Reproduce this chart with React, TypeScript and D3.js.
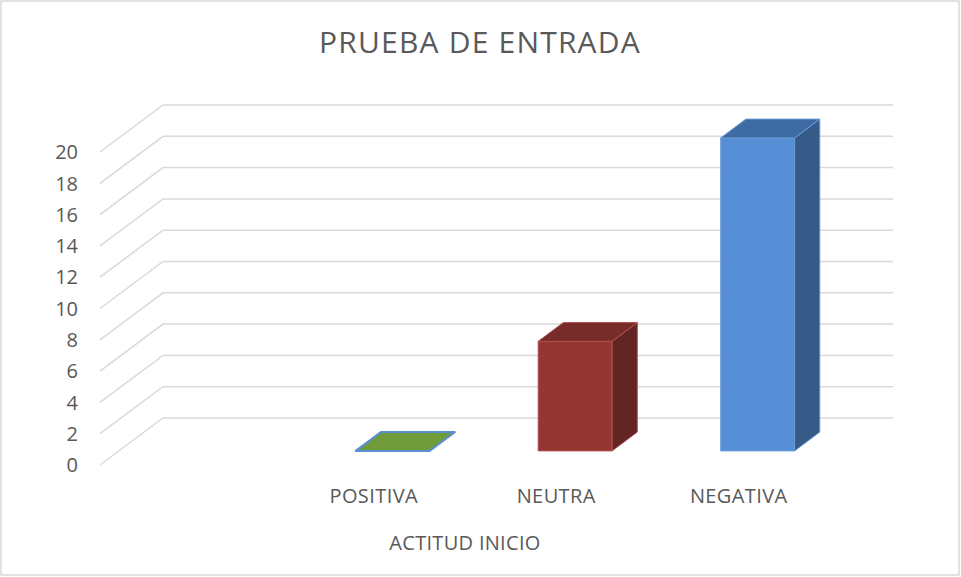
import * as d3 from "d3";

// data (first slot is an empty category in the original sheet)
const categories = ["", "POSITIVA", "NEUTRA", "NEGATIVA"];
const values: (number | null)[] = [null, 0, 7, 20];
const yTicks = [0, 2, 4, 6, 8, 10, 12, 14, 16, 18, 20];

const chartTitle = "PRUEBA DE ENTRADA";
const axisTitle = "ACTITUD INICIO";

// front, top and side colours for each bar, plus outline
const barColors = [
  null,
  { front: "#6f9b3a", top: "#6f9b3a", side: "#5a7f2f", line: "#5b8fd0" },
  { front: "#943634", top: "#772c2a", side: "#632523", line: "#b4504d" },
  { front: "#558ed5", top: "#3e6ba3", side: "#365b88", line: "#6a9ad8" },
];

const W = 961;
const H = 577;
const FONT = "'Open Sans', 'Liberation Sans', sans-serif";
const TEXT = "#595959";
const GRID = "#d9d9d9";

export default function App() {
  // depth offset of the oblique projection (floor front edge -> back wall)
  const depthX = 63;
  const depthY = 47;
  const barZ0 = 0.3;
  const barZ1 = 0.7;

  const xScale = d3.scaleBand<string>().domain(categories).range([100, 830]).padding(0);
  const yScale = d3.scaleLinear().domain([0, 20]).range([465, 152]);

  const proj = (x: number, v: number, z: number): [number, number] => [
    x + z * depthX,
    yScale(v) - z * depthY,
  ];
  const poly = (pts: [number, number][]) => pts.map((p) => p.join(",")).join(" ");

  const barW = xScale.bandwidth() * 0.405;

  return (
    <svg
      width={W}
      height={H}
      style={{ position: "fixed", left: 0, top: 0, background: "#fff" }}
    >
      <rect x={1} y={1} width={W - 3} height={H - 3} fill="#fff" stroke={GRID} strokeWidth={1.5} />

      <text
        x={480}
        y={53}
        textAnchor="middle"
        fontFamily={FONT}
        fontSize={30}
        letterSpacing={1.2}
        fill={TEXT}
      >
        {chartTitle}
      </text>

      {/* gridlines: side wall diagonal + back wall horizontal */}
      <g stroke={GRID} strokeWidth={1.5} fill="none">
        {yTicks.map((t) => {
          const a = proj(100, t, 0);
          const b = proj(100, t, 1);
          const c = proj(830, t, 1);
          return <polyline key={t} points={poly([a, b, c])} />;
        })}
      </g>

      {/* y tick labels */}
      <g fontFamily={FONT} fontSize={20} fill={TEXT} textAnchor="end">
        {yTicks.map((t) => (
          <text key={t} x={78} y={yScale(t)} dy="0.36em">
            {t}
          </text>
        ))}
      </g>

      {/* 3D columns */}
      {categories.map((cat, i) => {
        const v = values[i];
        const col = barColors[i];
        if (v === null || !col) return null;
        const cx = (xScale(cat) ?? 0) + xScale.bandwidth() / 2;
        const x0 = cx - barW / 2;
        const x1 = cx + barW / 2;
        const front = [proj(x0, 0, barZ0), proj(x1, 0, barZ0), proj(x1, v, barZ0), proj(x0, v, barZ0)];
        const top = [proj(x0, v, barZ0), proj(x1, v, barZ0), proj(x1, v, barZ1), proj(x0, v, barZ1)];
        const side = [proj(x1, 0, barZ0), proj(x1, 0, barZ1), proj(x1, v, barZ1), proj(x1, v, barZ0)];
        return (
          <g key={cat} stroke={col.line} strokeWidth={1} strokeLinejoin="round">
            {v > 0 && <polygon points={poly(front)} fill={col.front} />}
            {v > 0 && <polygon points={poly(side)} fill={col.side} />}
            <polygon points={poly(top)} fill={col.top} strokeWidth={v > 0 ? 1 : 2} />
          </g>
        );
      })}

      {/* category labels */}
      <g fontFamily={FONT} fontSize={20} letterSpacing={0.4} fill={TEXT} textAnchor="middle">
        {categories.map((cat) => (
          <text key={cat || "blank"} x={(xScale(cat) ?? 0) + xScale.bandwidth() / 2} y={503}>
            {cat}
          </text>
        ))}
      </g>

      <text
        x={465}
        y={550}
        textAnchor="middle"
        fontFamily={FONT}
        fontSize={20}
        letterSpacing={0.3}
        fill={TEXT}
      >
        {axisTitle}
      </text>
    </svg>
  );
}
